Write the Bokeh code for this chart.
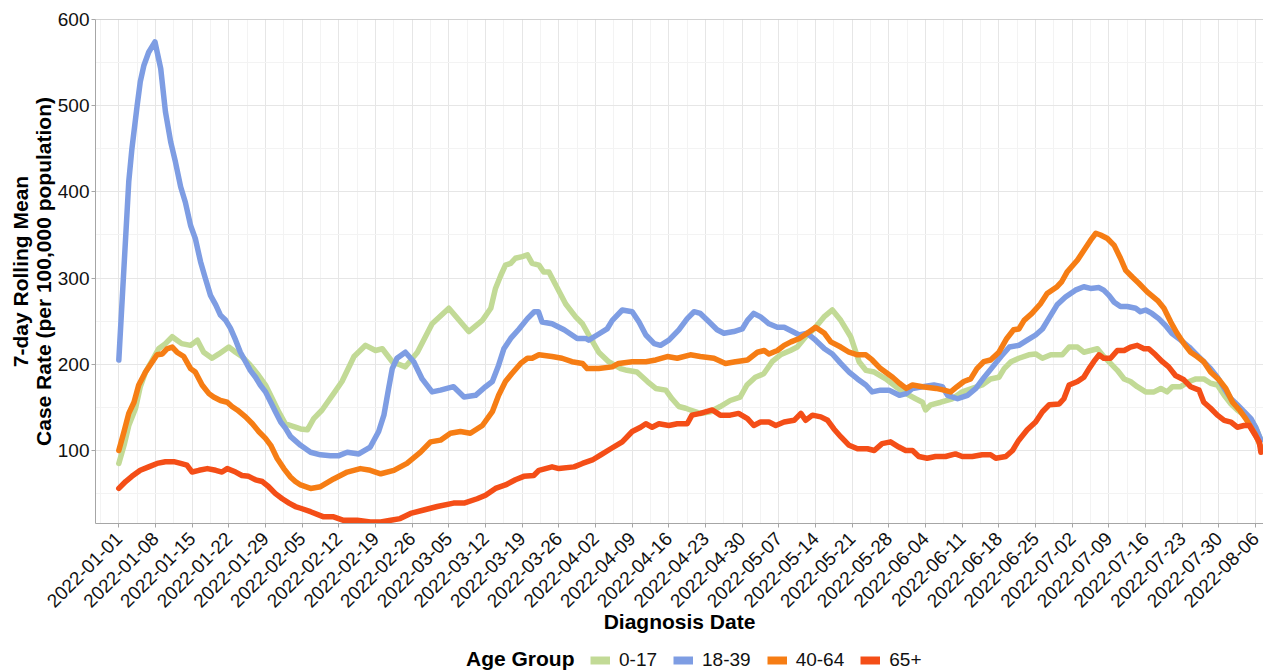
import pandas as pd
from math import pi
from bokeh.plotting import figure
from bokeh.layouts import column
from bokeh.models import Range1d, FixedTicker, DatetimeTickFormatter, Legend, LegendItem, Span
from bokeh.embed import file_html
from bokeh.resources import INLINE

# ---- data: (days since 2022-01-01, 7-day rolling case rate per 100k) ----
START = pd.Timestamp("2022-01-01")
groups = ["0-17", "18-39", "40-64", "65+"]
colors = ["#c2da96", "#7e9de3", "#f67d14", "#f44e17"]

age_0_17 = [(0, 85), (1, 106), (1.9, 129), (3.2, 149), (4.1, 174), (5.1, 191), (6.4, 205), (7.6, 218), (8.9, 224),
            (10.2, 232), (11.1, 228), (12, 224), (13.7, 222), (15, 228), (16.2, 214), (17.8, 207), (19.1, 212),
            (21, 220), (22.3, 214), (23.5, 209), (25.1, 199), (26.7, 187), (28, 176), (29.3, 160), (30.5, 145),
            (31.8, 131), (33.7, 127), (34.7, 125), (36, 124), (37.2, 137), (38.8, 147), (41, 166), (42.6, 180),
            (44.9, 209), (47.1, 222), (49, 216), (50.3, 218), (52.2, 203), (54.7, 197), (57, 214), (59.8, 247),
            (63, 265), (66.8, 238), (69.4, 251), (71, 265), (71.9, 288), (72.9, 303), (73.8, 315), (74.8, 317),
            (75.7, 323), (77, 325), (78, 327), (78.9, 317), (80.2, 315), (81.1, 307), (82.1, 307), (83.4, 292),
            (85.3, 270), (87.2, 255), (88.5, 247), (89.7, 234), (91.6, 214), (93.5, 203), (95.8, 195), (97, 193),
            (98.9, 191), (100.9, 180), (102.5, 172), (104.4, 170), (105.6, 160), (106.9, 151), (108.2, 149),
            (109.1, 147), (111, 143), (112.9, 145), (114.8, 151), (116.7, 158), (118.6, 162), (119.9, 176),
            (121.5, 185), (123.1, 189), (124.7, 203), (126.3, 211), (128.2, 216), (129.5, 220), (131.1, 232),
            (132.7, 241), (134.6, 255), (136.2, 263), (137.8, 251), (139.7, 232), (141.3, 203), (142.6, 193),
            (144.2, 191), (146.4, 183), (148.3, 174), (150.3, 166), (152.1, 160), (153.4, 156), (154, 147),
            (155, 153), (156.9, 156), (159.1, 160), (161, 168), (162.9, 172), (164.8, 176), (166.4, 183),
            (168, 185), (169, 195), (170.3, 203), (171.8, 207), (173.7, 211), (175, 212), (176.3, 207),
            (177.9, 211), (180.1, 211), (181.4, 220), (183, 220), (184.2, 214), (185.5, 216), (186.8, 218),
            (188, 209), (189.3, 201), (190.6, 193), (191.9, 183), (193.1, 180), (194.4, 174), (196, 168),
            (197.6, 168), (198.9, 172), (200.1, 168), (201.1, 174), (202.7, 174), (204.3, 180), (205.6, 183),
            (207.1, 183), (208.4, 178), (209.7, 176), (211, 164), (212.3, 154), (213.5, 147), (214.8, 141),
            (216.1, 135), (217, 127), (218, 112)]

age_18_39 = [(0, 205), (0.65, 276), (1.9, 412), (2.5, 450), (3.5, 500), (4.1, 528), (4.8, 547), (5.7, 562),
             (6.9, 574), (8, 543), (8.9, 493), (9.9, 458), (10.8, 435), (11.8, 406), (12.7, 388), (13.7, 361),
             (14.6, 346), (15.6, 319), (16.5, 300), (17.5, 280), (18.5, 269), (19.4, 257), (20.4, 251), (21.3, 242),
             (22.3, 228), (23.2, 214), (24.2, 203), (25.1, 193), (26.1, 185), (27, 176), (28, 168), (29, 156),
             (29.9, 145), (30.9, 133), (31.8, 126), (32.8, 116), (34.7, 106), (36.6, 98), (38.5, 95), (40.4, 94),
             (42, 94), (43.6, 98), (45.8, 96), (48, 104), (49.6, 122), (50.6, 141), (51.5, 172), (52.2, 195),
             (53.1, 207), (54.7, 214), (56.3, 203), (57.9, 183), (59.8, 168), (61.4, 170), (63.9, 174), (65.9, 162),
             (68.1, 164), (70, 174), (71.3, 180), (72.5, 199), (73.5, 218), (74.8, 230), (76.4, 241), (78, 253),
             (79.3, 261), (80.1, 261), (80.8, 249), (82.7, 247), (85, 240), (86.5, 234), (87.5, 230), (89.1, 230),
             (89.7, 228), (91.3, 234), (93.2, 241), (94.2, 251), (96.1, 263), (98, 261), (99.3, 249), (100.6, 234),
             (102.2, 224), (103.4, 222), (105, 228), (106.9, 240), (108.5, 253), (109.8, 261), (111, 259),
             (112.7, 249), (114.2, 240), (115.5, 236), (117.4, 238), (119, 241), (120, 251), (121.2, 259),
             (122.5, 255), (124.1, 247), (125.7, 243), (127, 243), (128.6, 238), (129.9, 234), (131.4, 236),
             (133, 228), (134.7, 218), (136.2, 212), (137.8, 201), (139.4, 191), (141, 183), (142.6, 176),
             (143.8, 168), (145.4, 170), (147, 170), (149, 164), (150.3, 166), (151.5, 172), (153.4, 174),
             (155.6, 176), (157.2, 174), (158.2, 164), (160.1, 160), (162, 164), (163.6, 172), (165.2, 185),
             (166.8, 197), (168.4, 209), (170, 220), (171.8, 222), (173.4, 228), (175, 234), (176.3, 241),
             (177.5, 253), (179.1, 269), (180.7, 278), (182.6, 286), (184.2, 290), (185.5, 288), (187.1, 289),
             (188, 286), (189, 280), (190, 272), (191.2, 267), (192.5, 267), (194.1, 265), (195, 261), (196, 263),
             (197.2, 259), (198.5, 253), (199.8, 245), (201, 236), (202.7, 228), (204.3, 220), (205.6, 212),
             (207.1, 203), (208.4, 195), (209.7, 185), (211, 172), (212.3, 160), (213.5, 153), (214.8, 145),
             (216.1, 137), (217, 127), (218, 112)]

age_40_64 = [(0, 100), (1, 122), (1.9, 143), (2.9, 156), (3.8, 176), (5.1, 191), (6.4, 203), (7.3, 211), (8.3, 212),
             (9.2, 218), (10.2, 220), (11.1, 214), (12.4, 209), (13.7, 195), (14.6, 191), (15.9, 176), (17.2, 166),
             (18.1, 162), (19.4, 158), (20.7, 156), (21.6, 151), (22.6, 147), (24.2, 139), (25.5, 131), (26.7, 122),
             (28, 114), (29, 106), (30.2, 91), (31.5, 79), (32.8, 69), (33.7, 64), (34.7, 60), (36.6, 56),
             (38.5, 58), (41, 67), (43.6, 75), (46.1, 79), (48, 77), (50, 73), (52.5, 77), (55, 85), (57.6, 98),
             (59.5, 110), (61.4, 112), (63.3, 120), (65.2, 122), (67.1, 120), (69.4, 129), (71.3, 145), (72.5, 164),
             (73.8, 180), (75, 189), (76.7, 201), (78, 207), (78.9, 207), (80.2, 211), (82.7, 209), (84.6, 207),
             (86.5, 203), (88.5, 201), (89.4, 195), (91.6, 195), (94.2, 197), (95.4, 201), (98, 203), (100.6, 203),
             (102.5, 205), (104.7, 209), (106.6, 207), (109.1, 211), (111, 209), (113.6, 207), (115.8, 201),
             (117.7, 203), (120, 205), (121.9, 214), (123.2, 216), (124.1, 212), (125.7, 216), (127, 222),
             (128.3, 226), (129.9, 230), (131.4, 236), (133, 243), (134.7, 236), (135.9, 226), (137.8, 220),
             (139.4, 214), (141, 211), (142.6, 211), (143.8, 205), (145.4, 195), (147.7, 185), (149, 178),
             (150.3, 172), (151.5, 176), (153.4, 174), (156, 172), (157.5, 170), (158.8, 168), (160, 174),
             (161.3, 180), (162.6, 183), (163.8, 195), (165.1, 203), (166.4, 205), (168, 214), (169.5, 230),
             (170.8, 240), (171.8, 241), (172.8, 251), (174.3, 259), (175.9, 270), (177.2, 282), (179.1, 290),
             (180, 296), (181, 307), (183, 321), (184.2, 332), (185.5, 344), (186.5, 352), (187.4, 350),
             (188.7, 346), (190, 338), (191.2, 323), (192.2, 309), (193.5, 301), (194.7, 294), (196.3, 284),
             (198.3, 274), (199.5, 265), (200.8, 249), (202, 236), (203.3, 224), (204.6, 214), (205.8, 209),
             (207.1, 203), (208.4, 191), (210, 182), (211.3, 172), (212.6, 156), (213.9, 147), (215.1, 137),
             (216.1, 127), (217, 118), (218, 104)]

age_65_plus = [(0, 56), (1.3, 64), (2.5, 70), (4.1, 77), (5.7, 81), (7.3, 85), (8.9, 87), (10.5, 87), (11.8, 85),
               (13, 83), (14, 75), (15.3, 77), (16.9, 79), (18.5, 77), (19.7, 75), (20.7, 79), (22.3, 75),
               (23.5, 71), (24.8, 70), (26.1, 66), (27.4, 64), (28.6, 58), (29.9, 50), (31.2, 44), (32.5, 39),
               (33.7, 35), (34.7, 33), (36.6, 29), (39.1, 23), (41, 23), (42.9, 19), (45.5, 19), (48, 17), (50, 17),
               (51.9, 19), (53.7, 21), (55.7, 27), (58.2, 31), (60.8, 35), (63.9, 39), (65.9, 39), (68.4, 44),
               (70, 48), (71.9, 56), (73.8, 60), (75.7, 66), (77.3, 70), (79.2, 71), (80.2, 77), (82.7, 81),
               (84, 79), (86.9, 81), (88.5, 85), (90.4, 89), (92, 95), (93.9, 102), (96.1, 110), (98, 122),
               (99.6, 127), (100.6, 131), (101.8, 127), (103.1, 131), (105, 129), (106.6, 131), (108.5, 131),
               (109.4, 141), (111, 143), (113.3, 147), (114.8, 141), (116.7, 141), (118.3, 143), (120, 137),
               (121.2, 129), (122.5, 133), (124.1, 133), (125.4, 129), (127, 133), (128.9, 135), (130.2, 143),
               (131.1, 135), (132.4, 141), (134, 139), (135.3, 135), (136.5, 125), (137.8, 116), (139.4, 106),
               (141, 102), (142.9, 102), (144.2, 100), (145.7, 108), (147.3, 110), (148.9, 104), (150.2, 100),
               (151.5, 100), (152.7, 93), (154.3, 91), (155.9, 93), (157.8, 93), (159.7, 96), (161, 93),
               (162.9, 93), (164.8, 95), (166.4, 95), (167.4, 91), (169.3, 93), (170.6, 100), (171.8, 112),
               (173.4, 124), (175, 133), (176.3, 145), (177.6, 153), (179.5, 154), (180.4, 160), (181.4, 176),
               (183, 180), (184.2, 185), (185.2, 195), (186.1, 203), (187.1, 211), (188, 207), (189.3, 207),
               (190.6, 216), (191.9, 216), (193.1, 220), (194.4, 222), (195.7, 218), (196.6, 218), (197.9, 211),
               (199.2, 203), (200.4, 197), (201.7, 187), (203.3, 182), (204.6, 174), (206.2, 170), (207.1, 156),
               (208.4, 149), (209.7, 141), (211, 135), (212.3, 133), (213.5, 127), (214.8, 129), (215.8, 129),
               (216.7, 120), (217.7, 110), (218, 98)]

series = [age_0_17, age_18_39, age_40_64, age_65_plus]

week_ticks = pd.date_range("2022-01-01", "2022-08-06", freq="7D")
y_ticks = [100, 200, 300, 400, 500, 600]
y_minor = [50, 150, 250, 350, 450, 550]

FONT = "Liberation Sans"


def to_dates(days):
    return START + pd.to_timedelta(list(days), unit="D")


def ms(ts):
    return ts.value / 1e6


p = figure(frame_width=1168, frame_height=504, x_axis_type="datetime", output_backend="svg",
           toolbar_location=None,
           x_range=Range1d(START - pd.Timedelta(days=4.45), START + pd.Timedelta(days=218.5)),
           y_range=Range1d(15.3, 600),
           min_border_left=95, min_border_top=19, min_border_right=0, min_border_bottom=0)
p.outline_line_color = None
p.background_fill_color = "white"

minor_x = [ms(t + pd.Timedelta(days=3.5)) for t in week_ticks[:-1]] + [ms(week_ticks[0] - pd.Timedelta(days=3.5)),
                                                                         ms(week_ticks[-1] + pd.Timedelta(days=3.5))]
p.xaxis.ticker = FixedTicker(ticks=[ms(t) for t in week_ticks], minor_ticks=minor_x)
fmt = "%Y-%m-%d"
p.xaxis.formatter = DatetimeTickFormatter(milliseconds=fmt, seconds=fmt, minsec=fmt, minutes=fmt, hourmin=fmt,
                                          hours=fmt, days=fmt, months=fmt, years=fmt)
p.yaxis.ticker = FixedTicker(ticks=y_ticks, minor_ticks=y_minor)

for ax in (p.xaxis[0], p.yaxis[0]):
    ax.axis_line_color = "#a6a6a6"
    ax.major_tick_line_color = "#a6a6a6"
    ax.major_tick_in = 0
    ax.major_tick_out = 4
    ax.minor_tick_line_color = None
    ax.major_label_text_font = FONT
    ax.major_label_text_font_size = "19px"
    ax.major_label_text_color = "#111111"
    ax.axis_label_text_font = FONT
    ax.axis_label_text_font_size = "21px"
    ax.axis_label_text_font_style = "bold"
    ax.axis_label_text_color = "black"

p.xaxis.major_label_orientation = pi / 4
p.xaxis.major_label_standoff = 8
p.xaxis.axis_label = "Diagnosis Date"
p.xaxis.axis_label_standoff = -6
p.yaxis.axis_label = "7-day Rolling Mean\nCase Rate (per 100,000 population)"
p.yaxis.axis_label_text_line_height = 1.0
p.yaxis.major_label_standoff = 2
p.yaxis.axis_label_standoff = 0

for g in (p.xgrid[0], p.ygrid[0]):
    g.grid_line_color = "#e6e6e6"
    g.grid_line_width = 1
    g.minor_grid_line_color = "#f3f3f3"
    g.minor_grid_line_width = 1

p.add_layout(Span(location=600, dimension="width", line_color="#a6a6a6", line_width=1))

for data, col in zip(series, colors):
    days = [d for d, _ in data]
    vals = [v for _, v in data]
    p.line(to_dates(days), vals, line_color=col, line_width=5.5, line_join="round", line_cap="round")

# ---- legend strip below the chart ----
q = figure(width=1263, height=35, output_backend="svg", toolbar_location=None,
           x_range=Range1d(0, 1), y_range=Range1d(0, 1),
           x_axis_location=None, y_axis_location=None,
           min_border_left=0, min_border_right=0, min_border_top=0, min_border_bottom=0)
q.outline_line_color = None
q.xgrid.visible = False
q.ygrid.visible = False

# key renderers sit outside the strip's visible range, only their legend swatches show
keys = [q.line([5, 6], [5, 6], line_color=col, line_width=8) for col in colors]
legend = Legend(items=[LegendItem(label=g, renderers=[r]) for g, r in zip(groups, keys)],
                orientation="horizontal", location=(495, 0), padding=0, margin=0, spacing=16,
                label_standoff=9, glyph_width=20, glyph_height=20, label_height=20,
                label_text_font=FONT, label_text_font_size="19px", label_text_color="#111111",
                border_line_color=None, background_fill_alpha=0)
q.add_layout(legend)

blank = q.line([5, 6], [5, 6], line_alpha=0)
title_legend = Legend(items=[LegendItem(label="Age Group", renderers=[blank])],
                      location=(371, 0), padding=0, margin=0, label_standoff=0, glyph_width=0,
                      glyph_height=20, label_height=20, label_text_font=FONT, label_text_font_size="21px",
                      label_text_font_style="bold", label_text_color="black",
                      border_line_color=None, background_fill_alpha=0)
q.add_layout(title_legend)

open("out.html", "w").write(file_html(column(p, q), INLINE))
